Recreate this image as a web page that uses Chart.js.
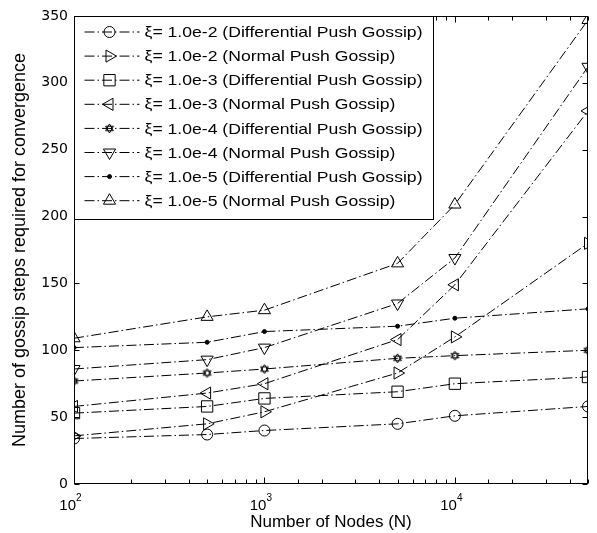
<!DOCTYPE html>
<html>
<head>
<meta charset="utf-8">
<script src="https://cdn.jsdelivr.net/npm/chart.js@4.4.0/dist/chart.umd.min.js"></script>
<style>
  html, body { margin: 0; padding: 0; background: #fff; }
  #wrap { width: 597px; height: 533px; }
</style>
</head>
<body>
<div id="wrap"><canvas id="chart" width="597" height="533"></canvas></div>
<script>
// Number of nodes (x axis, log scale)
const nodes = [100, 500, 1000, 5000, 10000, 50000];

// Gossip steps needed for convergence
const diff1e2 = [34, 37, 40, 45, 51, 58];
const norm1e2 = [36, 45, 54, 83, 110, 180];
const diff1e3 = [53, 58, 64, 69, 75, 80];
const norm1e3 = [58, 68, 75, 108, 149, 279];
const diff1e4 = [77, 83, 86, 94, 96, 100];
const norm1e4 = [86, 93, 102, 135, 169, 312];
const diff1e5 = [102, 106, 114, 118, 124, 131];
const norm1e5 = [109, 125, 130, 165, 209, 347];

const seriesLabels = [
    'ξ= 1.0e-2 (Differential Push Gossip)',
    'ξ= 1.0e-2 (Normal Push Gossip)',
    'ξ= 1.0e-3 (Differential Push Gossip)',
    'ξ= 1.0e-3 (Normal Push Gossip)',
    'ξ= 1.0e-4 (Differential Push Gossip)',
    'ξ= 1.0e-4 (Normal Push Gossip)',
    'ξ= 1.0e-5 (Differential Push Gossip)',
    'ξ= 1.0e-5 (Normal Push Gossip)'
];
const yTicks = [0, 50, 100, 150, 200, 250, 300, 350];
const xMajorTicks = [100, 1000, 10000];

const FONT = '"Liberation Sans", Arial, sans-serif';
const dashDot = [10, 3, 1.5, 3];

// hexagram marker (matlab 'hexagram') as an image point style
function makeHexagram(size) {
    const c = document.createElement('canvas');
    c.width = c.height = size;
    const g = c.getContext('2d');
    const cx = size / 2, r = size / 2 - 1;
    g.strokeStyle = '#000';
    g.lineWidth = 1;
    [-Math.PI / 2, Math.PI / 2].forEach(off => {
        g.beginPath();
        for (let i = 0; i < 3; i++) {
            const a = off + i * 2 * Math.PI / 3;
            const px = cx + r * Math.cos(a), py = cx + r * Math.sin(a);
            if (i) g.lineTo(px, py); else g.moveTo(px, py);
        }
        g.closePath();
        g.stroke();
    });
    return c;
}
const hexagram = makeHexagram(11);

// marker per series: style, radius, rotation
const markers = [
    { style: 'circle', radius: 5.5, rotation: 0 },
    { style: 'triangle', radius: 7, rotation: 90 },
    { style: 'rect', radius: 8, rotation: 0 },
    { style: 'triangle', radius: 7, rotation: -90 },
    { style: hexagram, radius: 5, rotation: 0 },
    { style: 'triangle', radius: 7, rotation: 180 },
    { style: 'circle', radius: 2, rotation: 0, filled: true },
    { style: 'triangle', radius: 7, rotation: 0 }
];

const seriesData = [diff1e2, norm1e2, diff1e3, norm1e3, diff1e4, norm1e4, diff1e5, norm1e5];

const datasets = seriesData.map((vals, i) => ({
    label: seriesLabels[i],
    data: vals.map((v, j) => ({ x: nodes[j], y: v })),
    borderColor: '#000',
    borderWidth: 1,
    borderDash: dashDot,
    backgroundColor: markers[i].filled ? '#000' : 'rgba(0,0,0,0)',
    pointStyle: markers[i].style,
    pointRadius: markers[i].radius,
    pointRotation: markers[i].rotation,
    pointBorderColor: '#000',
    pointBackgroundColor: markers[i].filled ? '#000' : 'rgba(0,0,0,0)',
    pointBorderWidth: 1,
    tension: 0,
    fill: false,
    clip: 0
}));

// matlab-like box, inward ticks, x labels with exponents and legend
const matlabFrame = {
    id: 'matlabFrame',
    afterDatasetsDraw(chart) {
        const ctx = chart.ctx;
        const a = chart.chartArea;
        const xs = chart.scales.x, ys = chart.scales.y;
        ctx.save();
        ctx.strokeStyle = '#000';
        ctx.lineWidth = 1;
        ctx.setLineDash([]);
        const L = Math.round(a.left) + 0.5, R = Math.round(a.right) - 0.5;
        const T = Math.round(a.top) + 0.5, B = Math.round(a.bottom) - 0.5;
        ctx.strokeRect(L, T, R - L, B - T);

        // x ticks (top and bottom, inward)
        xs.ticks.forEach(t => {
            const px = Math.round(xs.getPixelForValue(t.value)) + 0.5;
            const len = xMajorTicks.includes(t.value) ? 6 : 4;
            ctx.beginPath();
            ctx.moveTo(px, B); ctx.lineTo(px, B - len);
            ctx.moveTo(px, T); ctx.lineTo(px, T + len);
            ctx.stroke();
        });
        // y ticks (left and right, inward)
        yTicks.forEach(v => {
            const py = Math.round(ys.getPixelForValue(v)) + 0.5;
            ctx.beginPath();
            ctx.moveTo(L, py); ctx.lineTo(L + 5, py);
            ctx.moveTo(R, py); ctx.lineTo(R - 5, py);
            ctx.stroke();
        });

        // x tick labels: 10 with a raised exponent
        ctx.fillStyle = '#000';
        ctx.textBaseline = 'alphabetic';
        xMajorTicks.forEach(v => {
            const px = xs.getPixelForValue(v);
            const exp = String(Math.round(Math.log10(v)));
            ctx.font = '15px ' + FONT;
            ctx.textAlign = 'right';
            ctx.fillText('10', px + 2, B + 26);
            ctx.font = '10px ' + FONT;
            ctx.textAlign = 'left';
            ctx.fillText(exp, px + 2, B + 17);
        });

        // legend box in the upper left corner
        const lx = L, ly = T, lw = 359, lh = 203;
        ctx.fillStyle = '#fff';
        ctx.fillRect(lx, ly, lw, lh);
        ctx.strokeRect(lx, ly, lw, lh);
        ctx.font = '15px ' + FONT;
        const sx = 278 / ctx.measureText(seriesLabels[0]).width;
        chart.data.datasets.forEach((ds, i) => {
            const y = ly + 15.5 + i * 24.1;
            ctx.strokeStyle = '#000';
            ctx.setLineDash(dashDot);
            ctx.beginPath();
            ctx.moveTo(lx + 10, y); ctx.lineTo(lx + 65, y);
            ctx.stroke();
            ctx.setLineDash([]);
            ctx.fillStyle = markers[i].filled ? '#000' : 'rgba(0,0,0,0)';
            Chart.helpers.drawPoint(ctx, {
                pointStyle: markers[i].style,
                radius: markers[i].radius,
                rotation: markers[i].rotation,
                borderWidth: 1
            }, lx + 35, y);
            ctx.save();
            ctx.fillStyle = '#000';
            ctx.font = '15px ' + FONT;
            ctx.textAlign = 'left';
            ctx.textBaseline = 'middle';
            ctx.translate(lx + 70, y + 1);
            ctx.scale(sx, 1);
            ctx.fillText(ds.label, 0, 0);
            ctx.restore();
        });
        ctx.restore();
    }
};

function renderChart() {
    const ctx = document.getElementById('chart').getContext('2d');
    new Chart(ctx, {
        type: 'line',
        data: { datasets: datasets },
        options: {
            responsive: false,
            animation: false,
            layout: { padding: { top: 16, right: 3, left: 0, bottom: 0 } },
            plugins: { legend: { display: false }, tooltip: { enabled: false } },
            scales: {
                x: {
                    type: 'logarithmic',
                    min: 100,
                    max: 50000,
                    grid: { display: false, drawTicks: false },
                    border: { display: false },
                    ticks: { display: false },
                    afterFit: s => { s.height = 49; },
                    title: {
                        display: true,
                        text: 'Number of Nodes (N)',
                        color: '#000',
                        font: { family: FONT, size: 17 },
                        padding: { top: 0, bottom: 0 }
                    }
                },
                y: {
                    min: 0,
                    max: 350,
                    afterBuildTicks: s => { s.ticks = yTicks.map(v => ({ value: v })); },
                    grid: { display: false, drawTicks: false },
                    border: { display: false },
                    ticks: {
                        color: '#000',
                        padding: 6,
                        font: { family: '"DejaVu Sans", sans-serif', size: 14 }
                    },
                    afterFit: s => { s.width = 74; },
                    title: {
                        display: true,
                        text: 'Number of gossip steps required for convergence',
                        color: '#000',
                        font: { family: FONT, size: 18 },
                        padding: { top: 9, bottom: 0 }
                    }
                }
            }
        },
        plugins: [matlabFrame]
    });
}

window.onload = renderChart;
</script>
</body>
</html>
